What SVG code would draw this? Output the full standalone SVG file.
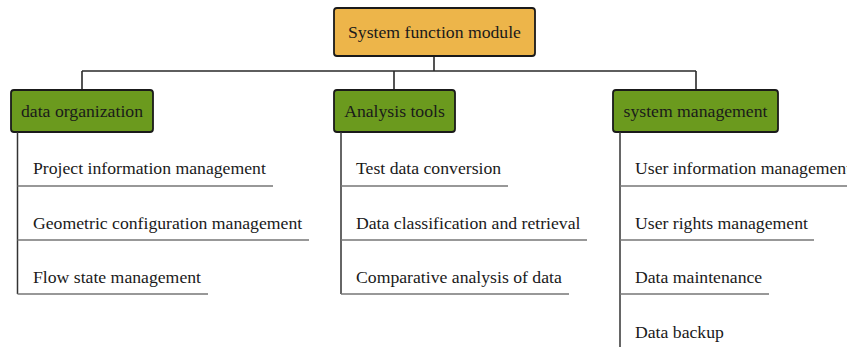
<svg xmlns="http://www.w3.org/2000/svg" width="847" height="347" viewBox="0 0 847 347" font-family="'Liberation Serif', 'Times New Roman', 'DejaVu Serif', serif">
<style>
text{font-family:'Liberation Serif','Times New Roman','DejaVu Serif',serif;font-size:17.7px;fill:#1a1a1a}
.box{stroke:#1a1a1a;stroke-width:1.8}
.root{fill:#EDB54A}
.cat{fill:#6B9A1E}
.c{text-anchor:middle}
.conn{stroke:#2a2a2a;stroke-width:1.6;fill:none}
.spine{stroke:#333;stroke-width:1.5;fill:none}
.under{stroke:#777;stroke-width:1.5;fill:none}
</style>
<rect width="847" height="347" fill="#fff"/>
<g id="connectors">
<path class="conn" d="M434 56V71M82 71H696M82 71V90M394 71V90M696 71V90"/>
</g>
<g id="root"><rect class="box root" x="334" y="8" width="201" height="48" rx="3"/><text class="c" x="434.5" y="38">System function module</text></g>
<g id="data-organization"><rect class="box cat" x="11" y="90" width="142" height="42" rx="3"/><text class="c" x="82" y="117">data organization</text></g>
<g id="analysis-tools"><rect class="box cat" x="334" y="90" width="121" height="42" rx="3"/><text class="c" x="394.5" y="117">Analysis tools</text></g>
<g id="system-management"><rect class="box cat" x="613" y="90" width="165" height="42" rx="3"/><text class="c" x="695.5" y="117">system management</text></g>
<g id="list-data-organization">
<path class="spine" d="M17.5 132V294"/>
<path class="under" d="M17.5 186H273M17.5 240H309M17.5 294H208"/>
<text x="33" y="174">Project information management</text>
<text x="33" y="229">Geometric configuration management</text>
<text x="33" y="283">Flow state management</text>
</g>
<g id="list-analysis-tools">
<path class="spine" d="M341 132V294"/>
<path class="under" d="M341 186H508M341 240H587M341 294H569"/>
<text x="356" y="174">Test data conversion</text>
<text x="356" y="229">Data classification and retrieval</text>
<text x="356" y="283">Comparative analysis of data</text>
</g>
<g id="list-system-management">
<path class="spine" d="M620 132V347"/>
<path class="under" d="M620 186H847M620 240H814M620 294H769"/>
<text x="635" y="174">User information management</text>
<text x="635" y="229">User rights management</text>
<text x="635" y="283">Data maintenance</text>
<text x="635" y="338">Data backup</text>
</g>
</svg>
